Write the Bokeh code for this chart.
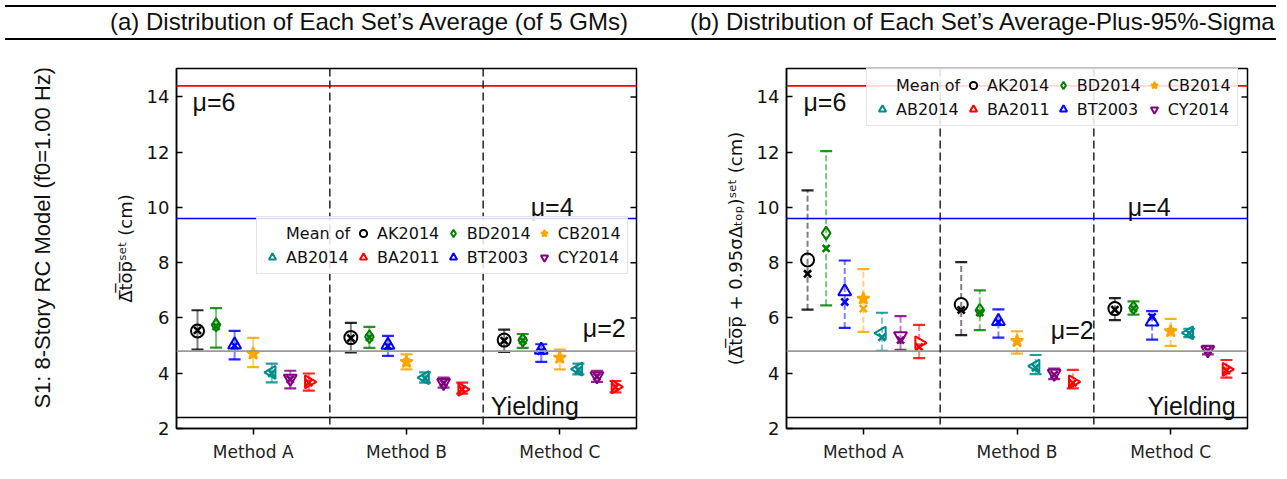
import math
from bokeh.plotting import figure
from bokeh.models import (FactorRange, Range1d, Span, Label, Legend, LegendItem,
                          FixedTicker, ColumnDataSource, Div)
from bokeh.transform import dodge
from bokeh.layouts import column, row
from bokeh.embed import file_html
from bokeh.resources import INLINE

# ---------------- data ----------------
methods = ["Method A", "Method B", "Method C"]
series_names = ["AK2014", "BD2014", "BT2003", "CB2014", "AB2014", "CY2014", "BA2011"]
legend_order = ["AK2014", "BD2014", "CB2014", "AB2014", "BA2011", "BT2003", "CY2014"]
y_ticks = [2, 4, 6, 8, 10, 12, 14]

level_values = [14.4, 9.6, 4.8, 2.4]
level_names = ["μ=6", "μ=4", "μ=2", "Yielding"]

# panel (a): mean of each set's average  (rows follow series_names, cols follow methods)
a_mean = [[5.53, 5.29, 5.20], [5.75, 5.32, 5.20], [5.03, 5.02, 4.84], [4.71, 4.41, 4.56],
          [4.03, 3.84, 4.15], [3.81, 3.66, 3.90], [3.69, 3.42, 3.51]]
a_cross = [[5.55, 5.27, 5.18], [5.70, 5.30, 5.18], [5.00, 4.98, 4.80], [4.70, 4.40, 4.52],
           [4.00, 3.82, 4.12], [3.78, 3.64, 3.88], [3.66, 3.42, 3.50]]
a_low = [[4.86, 4.75, 4.77], [4.93, 4.92, 4.92], [4.50, 4.63, 4.41], [4.22, 4.14, 4.14],
         [3.67, 3.66, 3.96], [3.45, 3.48, 3.69], [3.37, 3.26, 3.31]]
a_high = [[6.28, 5.82, 5.58], [6.36, 5.68, 5.42], [5.53, 5.35, 5.05], [5.28, 4.68, 4.86],
          [4.35, 4.03, 4.35], [4.09, 3.84, 4.09], [3.99, 3.66, 3.72]]

# panel (b): average-plus-95%-sigma
b_mean = [[8.10, 6.49, 6.34], [9.07, 6.28, 6.37], [6.96, 5.88, 5.86], [6.70, 5.17, 5.52],
          [5.45, 4.26, 5.46], [5.35, 3.99, 4.84], [5.10, 3.69, 4.14]]
b_cross = [[7.60, 6.29, 6.30], [8.52, 6.20, 6.35], [6.58, 5.85, 6.04], [6.34, 5.10, 5.50],
           [5.30, 4.20, 5.45], [5.20, 3.95, 4.82], [4.95, 3.65, 4.10]]
b_low = [[6.30, 5.38, 5.92], [6.46, 5.56, 6.12], [5.64, 5.29, 5.22], [5.50, 4.71, 4.99],
         [4.81, 3.97, 5.31], [4.85, 3.79, 4.68], [4.55, 3.45, 3.84]]
b_high = [[10.62, 8.02, 6.72], [12.04, 7.00, 6.60], [8.08, 6.31, 6.25], [7.77, 5.52, 5.97],
          [6.19, 4.66, 5.61], [6.07, 4.17, 4.99], [5.75, 4.12, 4.48]]

# ---------------- styles ----------------
series_colors = ["#000000", "#008000", "#0000ff", "#ffa500", "#008b8b", "#800080", "#ff0000"]
series_markers = ["circle", "diamond", "triangle", "star", "triangle", "inverted_triangle", "triangle"]
series_angles = [0, 0, 0, 0, math.pi / 2, 0, -math.pi / 2]
series_filled = [False, False, False, True, False, False, False]
level_colors = ["#ff0000", "#0000ff", "#9a9a9a", "#000000"]
TEXT_FONT = "Liberation Sans"
TICK_FONT = "DejaVu Sans"


def make_panel(mean, cross, low, high, err_dash, legend_loc, ylabel, text_pos,
               width, bl, br):
    xr = FactorRange(factors=methods, range_padding=0)
    p = figure(width=width, height=436, x_range=xr, y_range=Range1d(2, 15.03),
               output_backend="svg", toolbar_location=None,
               min_border_left=bl, min_border_right=br, min_border_top=23,
               min_border_bottom=53)
    p.xgrid.visible = False
    p.ygrid.visible = False
    p.outline_line_color = "black"
    p.outline_line_width = 1.5
    p.background_fill_color = "white"
    p.border_fill_color = "white"

    # y axis
    p.yaxis.ticker = FixedTicker(ticks=y_ticks)
    p.yaxis.major_tick_in = 6
    p.yaxis.major_tick_out = 0
    p.yaxis.minor_tick_line_color = None
    p.yaxis.axis_line_width = 1.5
    p.yaxis.major_tick_line_width = 1.5
    p.yaxis.major_label_text_font = TICK_FONT
    p.yaxis.major_label_text_font_size = "18px"
    p.yaxis.major_label_text_color = "#111111"
    p.yaxis.major_label_standoff = 7
    p.yaxis.axis_label = ylabel
    p.yaxis.axis_label_text_font = TICK_FONT
    p.yaxis.axis_label_text_font_size = "18px"
    p.yaxis.axis_label_text_font_style = "normal"
    p.yaxis.axis_label_text_color = "#111111"
    p.yaxis.axis_label_standoff = 8

    # inward tick marks on the right spine (clipped half of a dash marker)
    p.scatter(x=[len(methods)] * len(y_ticks), y=y_ticks, marker="dash", size=12,
              line_color="black", line_width=1.5)

    # x axis
    p.xaxis.major_tick_out = 6
    p.xaxis.major_tick_in = 0
    p.xaxis.axis_line_width = 1.5
    p.xaxis.major_tick_line_width = 1.5
    p.xaxis.major_label_text_font = TICK_FONT
    p.xaxis.major_label_text_font_size = "17px"
    p.xaxis.major_label_text_color = "#222222"
    p.xaxis.major_label_standoff = 7

    # reference levels
    for lv, lc in zip(level_values, level_colors):
        p.add_layout(Span(location=lv, dimension="width", line_color=lc, line_width=1.6))
    # group separators
    for k in range(1, len(methods)):
        p.add_layout(Span(location=k, dimension="height", line_color="#222222",
                          line_width=1.5, line_dash="8 4"))

    for (txt, tx, ty) in text_pos:
        p.add_layout(Label(x=tx, y=ty, text=txt, text_font=TEXT_FONT,
                           text_font_size="25px", text_baseline="middle",
                           text_align="left", text_color="#111111"))

    mean_r = {}
    n = len(series_names)
    for i, name in enumerate(series_names):
        off = (i - (n - 1) / 2) * 0.121
        c = series_colors[i]
        src = ColumnDataSource(dict(method=methods, mean=mean[i], cross=cross[i],
                                    low=low[i], high=high[i]))
        xd = dodge("method", off, range=xr)
        p.segment(x0=xd, y0="low", x1=xd, y1="high", source=src, line_color=c,
                  line_alpha=0.5, line_width=2, line_dash=err_dash)
        p.scatter(x=xd, y="low", source=src, marker="dash", size=12, line_color=c,
                  line_width=2.2, line_alpha=0.85)
        p.scatter(x=xd, y="high", source=src, marker="dash", size=12, line_color=c,
                  line_width=2.2, line_alpha=0.85)
        p.scatter(x=xd, y="cross", source=src, marker="x", size=10, line_color=c,
                  line_width=2.6)
        r = p.scatter(x=xd, y="mean", source=src, marker=series_markers[i],
                      angle=series_angles[i], size=13, line_color=c, line_width=2,
                      fill_color=c if series_filled[i] else None)
        mean_r[name] = r

    blank = p.scatter(x=[], y=[], marker="circle", size=0, line_alpha=0, fill_alpha=0)
    items = [LegendItem(label="Mean of", renderers=[blank])]
    for name in legend_order:
        items.append(LegendItem(label=name, renderers=[mean_r[name]]))
    leg = Legend(items=items, location=legend_loc, orientation="horizontal", ncols=4,
                 label_text_font=TICK_FONT, label_text_font_size="16px",
                 label_text_color="#111111", glyph_width=18, glyph_height=20,
                 label_height=18, label_standoff=5, spacing=4, padding=6, margin=0,
                 border_line_color="#cccccc", border_line_width=1,
                 background_fill_alpha=0.85)
    p.add_layout(leg)
    return p


a_texts = [(level_names[0], 0.105, 13.8), (level_names[1], 2.31, 10.03),
           (level_names[2], 2.65, 5.62), (level_names[3], 2.05, 2.8)]
b_texts = [(level_names[0], 0.11, 13.8), (level_names[1], 2.22, 10.03),
           (level_names[2], 1.72, 5.55), (level_names[3], 2.35, 2.8)]

p1 = make_panel(a_mean, a_cross, a_low, a_high, "solid", (80, 154),
                "Δ\u0305t\u0305o\u0305p\u0305ˢᵉᵗ (cm)", a_texts, 622, 98, 64)
p2 = make_panel(b_mean, b_cross, b_low, b_high, "6 3", (80, 302),
                "(Δ\u0305t\u0305o\u0305p\u0305 + 0.95σΔₜₒₚ)ˢᵉᵗ (cm)", b_texts, 579, 86, 32)

# left row label
lab = figure(width=78, height=436, x_range=Range1d(0, 1), y_range=Range1d(0, 1),
             output_backend="svg", toolbar_location=None, min_border=0)
lab.axis.visible = False
lab.xgrid.visible = False
lab.ygrid.visible = False
lab.outline_line_color = None
lab.add_layout(Label(x=0.54, y=0.53, text="S1: 8-Story RC Model (f0=1.00 Hz)",
                     angle=math.pi / 2, text_align="center", text_baseline="middle",
                     text_font=TEXT_FONT, text_font_size="22px", text_color="#111111"))

title_a = "(a) Distribution of Each Set’s Average (of 5 GMs)"
title_b = "(b) Distribution of Each Set’s Average-Plus-95%-Sigma"
header = Div(
    text=(
        '<div style="position:relative;width:1271px;height:35px;box-sizing:border-box;'
        'border-top:2px solid black;border-bottom:2px solid black;'
        "font-family:'Liberation Sans Narrow','Liberation Sans',sans-serif;"
        'font-size:24px;line-height:24px;color:#111;">'
        f'<span style="position:absolute;left:105px;top:3px;white-space:nowrap;">{title_a}</span>'
        f'<span style="position:absolute;left:685px;top:3px;white-space:nowrap;">{title_b}</span>'
        '</div>'),
    width=1271, height=35)

layout = column(header, row(lab, p1, p2))
open("out.html", "w").write(file_html(layout, INLINE))
